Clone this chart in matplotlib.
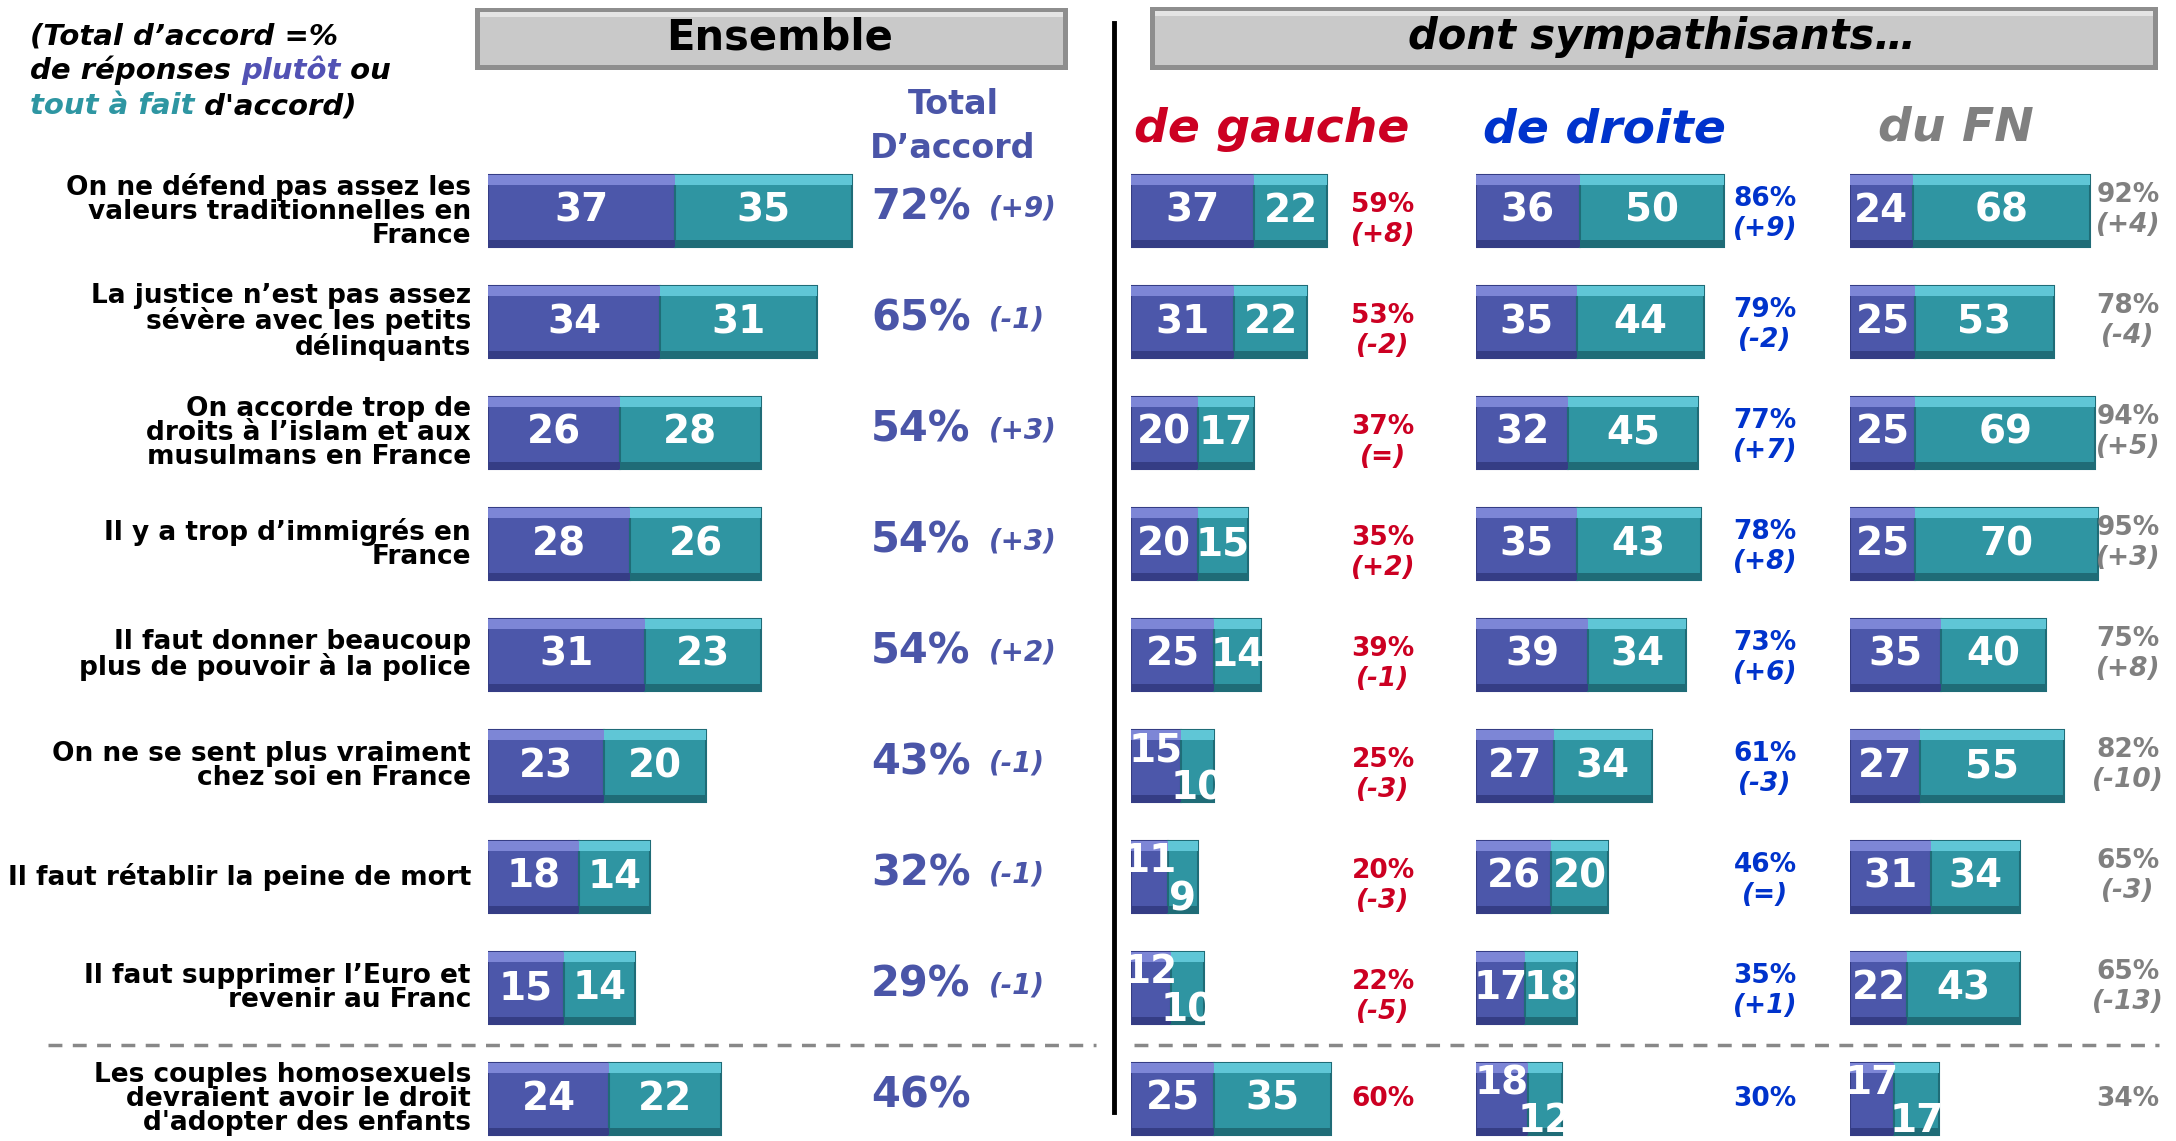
import matplotlib.pyplot as plt
import numpy as np
from matplotlib.patches import Rectangle
from matplotlib.lines import Line2D

# statements (row labels)
labels = [
    "On ne défend pas assez les\nvaleurs traditionnelles en\nFrance",
    "La justice n’est pas assez\nsévère avec les petits\ndélinquants",
    "On accorde trop de\ndroits à l’islam et aux\nmusulmans en France",
    "Il y a trop d’immigrés en\nFrance",
    "Il faut donner beaucoup\nplus de pouvoir à la police",
    "On ne se sent plus vraiment\nchez soi en France",
    "Il faut rétablir la peine de mort",
    "Il faut supprimer l’Euro et\nrevenir au Franc",
    "Les couples homosexuels\ndevraient avoir le droit\nd'adopter des enfants",
]

# Ensemble
ens_plutot = [37, 34, 26, 28, 31, 23, 18, 15, 24]
ens_tout = [35, 31, 28, 26, 23, 20, 14, 14, 22]
ens_total = [72, 65, 54, 54, 54, 43, 32, 29, 46]
ens_change = ['(+9)', '(-1)', '(+3)', '(+3)', '(+2)', '(-1)', '(-1)', '(-1)', '']

# sympathisants de gauche
gauche_plutot = [37, 31, 20, 20, 25, 15, 11, 12, 25]
gauche_tout = [22, 22, 17, 15, 14, 10, 9, 10, 35]
gauche_total = [59, 53, 37, 35, 39, 25, 20, 22, 60]
gauche_change = ['(+8)', '(-2)', '(=)', '(+2)', '(-1)', '(-3)', '(-3)', '(-5)', '']

# sympathisants de droite
droite_plutot = [36, 35, 32, 35, 39, 27, 26, 17, 18]
droite_tout = [50, 44, 45, 43, 34, 34, 20, 18, 12]
droite_total = [86, 79, 77, 78, 73, 61, 46, 35, 30]
droite_change = ['(+9)', '(-2)', '(+7)', '(+8)', '(+6)', '(-3)', '(=)', '(+1)', '']

# sympathisants du FN
fn_plutot = [24, 25, 25, 25, 35, 27, 31, 22, 17]
fn_tout = [68, 53, 69, 70, 40, 55, 34, 43, 17]
fn_total = [92, 78, 94, 95, 75, 82, 65, 65, 34]
fn_change = ['(+4)', '(-4)', '(+5)', '(+3)', '(+8)', '(-10)', '(-3)', '(-13)', '']

BLUE = '#4C57AA'
BLUE_LIGHT = '#7D86D6'
BLUE_DARK = '#353D85'
TEAL = '#2F95A2'
TEAL_LIGHT = '#5FC6D6'
TEAL_DARK = '#1F6C77'
ENS_COL = '#4A55A8'
RED = '#CC0022'
DBLUE = '#0033CC'
GREY = '#808080'

W, H = 2176, 1141
fig = plt.figure(figsize=(W / 100, H / 100), dpi=100)


def fx(px):
    return px / W


def fy(py):
    return 1 - py / H


def make_panel(x0, width, scale):
    # row r sits at 211 + 111*r pixels from the top
    ax = fig.add_axes([fx(x0), 0, width / W, (H - 100) / H])
    ax.set_xlim(0, width / scale)
    ax.set_ylim((H - 211) / 111, (100 - 211) / 111)
    ax.axis('off')
    return ax, scale


bar_h = 0.65


def draw_bars(ax, scale, plutot, tout):
    y = np.arange(len(plutot))
    p = np.array(plutot)
    t = np.array(tout)
    ax.barh(y, p, height=bar_h, color=BLUE, edgecolor=BLUE_DARK, lw=1.5)
    ax.barh(y, t, left=p, height=bar_h, color=TEAL, edgecolor=TEAL_DARK, lw=1.5)
    # bevel: light strip on top, dark strip at bottom
    ax.barh(y - bar_h / 2 + 0.045, p, height=0.09, color=BLUE_LIGHT, lw=0)
    ax.barh(y - bar_h / 2 + 0.045, t, left=p, height=0.09, color=TEAL_LIGHT, lw=0)
    ax.barh(y + bar_h / 2 - 0.03, p, height=0.06, color=BLUE_DARK, lw=0)
    ax.barh(y + bar_h / 2 - 0.03, t, left=p, height=0.06, color=TEAL_DARK, lw=0)
    for i in range(len(p)):
        stagger = min(p[i], t[i]) * scale < 46
        dy1, dy2 = (-0.14, 0.2) if stagger else (0, 0)
        ax.text(p[i] / 2, i + dy1, str(p[i]), color='white', fontsize=28,
                fontweight='bold', ha='center', va='center')
        ax.text(p[i] + t[i] / 2, i + dy2, str(t[i]), color='white', fontsize=28,
                fontweight='bold', ha='center', va='center')


def draw_totals(ax, scale, x_px, x0, totals, changes, color, dy_pct, dy_chg, ha='center'):
    xc = (x_px - x0) / scale
    for i, (tot, chg) in enumerate(zip(totals, changes)):
        if chg:
            ax.text(xc, i + dy_pct, f'{tot}%', color=color, fontsize=19,
                    fontweight='bold', ha=ha, va='center')
            ax.text(xc, i + dy_chg, chg, color=color, fontsize=19,
                    fontweight='bold', style='italic', ha=ha, va='center')
        else:
            ax.text(xc, i, f'{tot}%', color=color, fontsize=19,
                    fontweight='bold', ha=ha, va='center')


# --- Ensemble panel
ax_e, s_e = make_panel(488, 612, 5.06)
draw_bars(ax_e, s_e, ens_plutot, ens_tout)
for i, (tot, chg) in enumerate(zip(ens_total, ens_change)):
    ax_e.text((871 - 488) / s_e, i - 0.03, f'{tot}%', color=ENS_COL, fontsize=30,
              fontweight='bold', ha='left', va='center')
    if chg:
        ax_e.text((989 - 488) / s_e, i - 0.02, chg, color=ENS_COL, fontsize=20,
                  fontweight='bold', style='italic', ha='left', va='center')
for i, lab in enumerate(labels):
    ax_e.text(-17 / s_e, i, lab, fontsize=19, fontweight='bold', ha='right',
              va='center', linespacing=0.92, color='black')

# --- sympathisants panels
ax_g, s_g = make_panel(1131, 334, 3.33)
draw_bars(ax_g, s_g, gauche_plutot, gauche_tout)
draw_totals(ax_g, s_g, 1383, 1131, gauche_total, gauche_change, RED, -0.05, 0.22)

ax_d, s_d = make_panel(1476, 369, 2.88)
draw_bars(ax_d, s_d, droite_plutot, droite_tout)
draw_totals(ax_d, s_d, 1765, 1476, droite_total, droite_change, DBLUE, -0.11, 0.16)

ax_f, s_f = make_panel(1850, 326, 2.61)
draw_bars(ax_f, s_f, fn_plutot, fn_tout)
draw_totals(ax_f, s_f, 2128, 1850, fn_total, fn_change, GREY, -0.14, 0.13)


# --- header boxes
def header_box(x0, x1, y0, y1, text, italic=False):
    fig.add_artist(Rectangle((fx(x0), fy(y1)), (x1 - x0) / W, (y1 - y0) / H,
                             transform=fig.transFigure, color='#8E8E8E', lw=0))
    fig.add_artist(Rectangle((fx(x0 + 5), fy(y1 - 5)), (x1 - x0 - 10) / W, (y1 - y0 - 9) / H,
                             transform=fig.transFigure, color='#C9C9C9', lw=0))
    fig.add_artist(Rectangle((fx(x0 + 5), fy(y0 + 9)), (x1 - x0 - 10) / W, 5 / H,
                             transform=fig.transFigure, color='#E4E4E4', lw=0))
    fig.text(fx((x0 + x1) / 2 + 8), fy((y0 + y1) / 2 - 1), text, fontsize=30,
             fontweight='bold', style='italic' if italic else 'normal',
             ha='center', va='center', color='black')


header_box(475, 1068, 8, 70, 'Ensemble')
header_box(1150, 2158, 7, 70, 'dont sympathisants…', italic=True)

fig.text(fx(953), fy(105), 'Total', fontsize=24, fontweight='bold', color=ENS_COL,
         ha='center', va='center')
fig.text(fx(953), fy(149), 'D’accord', fontsize=24, fontweight='bold', color=ENS_COL,
         ha='center', va='center')

fig.text(fx(1134), fy(130), 'de gauche', fontsize=34, fontweight='bold', style='italic',
         color=RED, ha='left', va='center')
fig.text(fx(1483), fy(130), 'de droite', fontsize=34, fontweight='bold', style='italic',
         color=DBLUE, ha='left', va='center')
fig.text(fx(1878), fy(128), 'du FN', fontsize=34, fontweight='bold', style='italic',
         color=GREY, ha='left', va='center')

# --- note top-left
note_kw = dict(fontsize=21, fontweight='bold', style='italic')
fig.text(fx(30), fy(50), '(Total d’accord =%', color='black', va='bottom', **note_kw)
t1 = fig.text(fx(30), fy(85), 'de réponses ', color='black', va='bottom', **note_kw)
a2 = fig.add_artist(plt.Annotation('plutôt', xy=(1, 0), xycoords=t1, va='bottom',
                                   color='#5252B4', **note_kw))
fig.add_artist(plt.Annotation(' ou', xy=(1, 0), xycoords=a2, va='bottom',
                              color='black', **note_kw))
t3 = fig.text(fx(30), fy(120), 'tout à fait', color='#2E96A2', va='bottom', **note_kw)
fig.add_artist(plt.Annotation(' d\'accord)', xy=(1, 0), xycoords=t3, va='bottom',
                              color='black', **note_kw))

# --- separators
fig.add_artist(Line2D([fx(1114), fx(1114)], [fy(23), fy(1112)], color='black', lw=3.5,
                      transform=fig.transFigure))
fig.add_artist(Line2D([fx(48), fx(1096)], [fy(1045), fy(1045)], color='#888888', lw=2.5,
                      ls=(0, (4, 3)), transform=fig.transFigure))
fig.add_artist(Line2D([fx(1134), fx(2159)], [fy(1045), fy(1045)], color='#888888', lw=2.5,
                      ls=(0, (4, 3)), transform=fig.transFigure))

fig.savefig('out.png', dpi=100, facecolor='white')
